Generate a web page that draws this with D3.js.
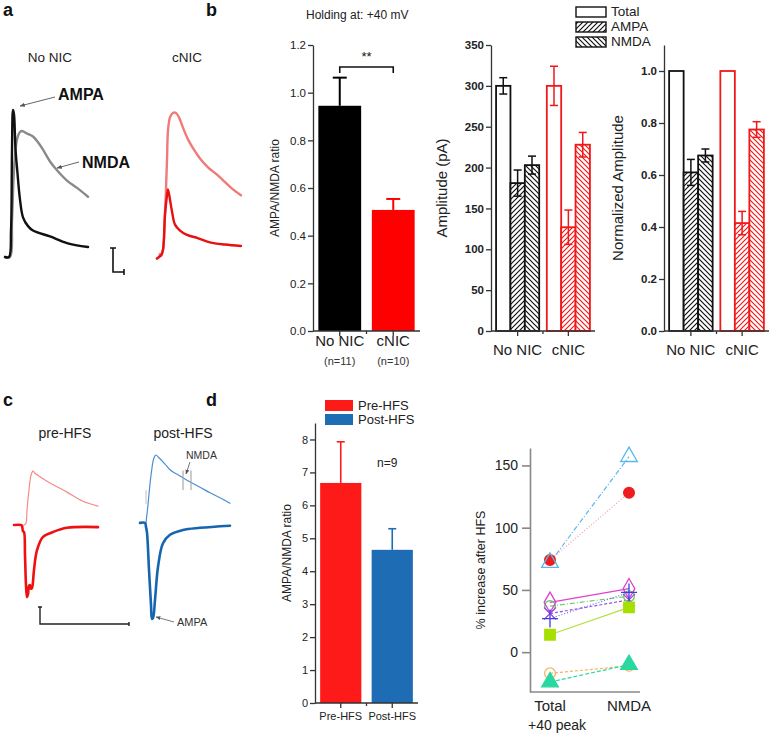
<!DOCTYPE html>
<html><head><meta charset="utf-8">
<script src="https://cdn.jsdelivr.net/npm/d3@7"></script>
<style>body{margin:0;background:#fff}svg{display:block}text{font-family:"Liberation Sans",Arial,sans-serif}</style>
</head><body><svg id="c" width="771" height="734"></svg>
<script>
// ---------------- DATA ----------------
// panel a traces: [time ms, normalized amplitude]
const traceNoNicAMPA = [[0,0],[8,0],[12,0.18],[14,0.73],[16,1.0],[18,0.97],[21,0.73],[24,0.61],[30,0.39],[36,0.27],[46,0.21],[56,0.18],[90,0.14],[124,0.095],[166,0.068]];
const traceNoNicNMDA = [[0,0],[10,0],[14,0.25],[18,0.59],[24,0.8],[30,0.85],[34,0.857],[44,0.84],[56,0.82],[66,0.78],[76,0.73],[90,0.65],[104,0.59],[124,0.52],[144,0.47],[166,0.41]];
const traceCnicNMDA = [[0,-0.01],[4,0],[6,0.02],[8,0.01],[12,0.05],[16,0.29],[20,0.66],[22,0.86],[26,0.95],[32,0.98],[38,0.98],[44,0.95],[52,0.88],[62,0.8],[72,0.74],[86,0.67],[102,0.61],[120,0.56],[136,0.51],[152,0.46],[168,0.42]];
const traceCnicAMPA = [[0,-0.01],[4,0],[8,0.01],[12,0.05],[16,0.29],[20,0.42],[22,0.46],[26,0.39],[30,0.31],[36,0.22],[46,0.18],[60,0.15],[80,0.13],[106,0.10],[136,0.085],[168,0.075]];
// panel b
const ratioCats = ["No NIC","cNIC"];
const ratioNs = ["(n=11)","(n=10)"];
const ratioVals = [0.945, 0.508];
const ratioErr = [0.118, 0.046];
const ratioTicks = [0,0.2,0.4,0.6,0.8,1.0,1.2];
const ampSeries = ["Total","AMPA","NMDA"];
const ampNoNic = [300,181,203];
const ampNoNicErr = [10,16,11];
const ampCnic = [300,127,228];
const ampCnicErr = [24,21,15];
const ampTicks = [0,50,100,150,200,250,300,350];
const normNoNic = [1.0,0.61,0.675];
const normNoNicErr = [0,0.05,0.025];
const normCnic = [1.0,0.415,0.775];
const normCnicErr = [0,0.045,0.03];
const normTicks = [0,0.2,0.4,0.6,0.8,1.0];
// panel c traces: [time ms, normalized amplitude]
const tracePreNMDA = [[20,0],[24,0.03],[26,0.21],[30,0.5],[34,0.71],[38,0.77],[42,0.74],[52,0.69],[72,0.6],[106,0.47],[138,0.34],[168,0.27]];
const tracePreAMPA = [[0,0],[14,0],[16,-0.01],[18,-0.09],[20,-0.1],[22,-0.43],[24,-0.86],[26,-1.03],[28,-0.99],[30,-0.87],[32,-0.86],[34,-0.91],[36,-0.9],[40,-0.64],[46,-0.36],[58,-0.17],[78,-0.1],[106,-0.04],[168,-0.03]];
const tracePostNMDA = [[12,0.03],[16,0.29],[22,0.71],[28,0.96],[32,1.0],[38,0.96],[50,0.87],[60,0.79],[80,0.7],[94,0.64],[120,0.54],[140,0.46],[160,0.39],[180,0.31]];
const tracePostAMPA = [[0,0.03],[10,0.03],[12,-0.03],[14,-0.11],[18,-0.64],[22,-1.14],[24,-1.34],[26,-1.33],[30,-1.07],[36,-0.6],[46,-0.26],[60,-0.14],[86,-0.07],[120,-0.04],[180,-0.01]];
const nmdaWindow = [86, 102];
// panel d
const hfsCats = ["Pre-HFS","Post-HFS"];
const hfsVals = [6.68, 4.65];
const hfsErr = [1.25, 0.64];
const hfsTicks = [0,1,2,3,4,5,6,7,8];
const scatterCats = ["Total","NMDA"];
const cellTotal = [72, 74, 40, 37, 31, 27, 14, -17, -24];
const cellNmda  = [157, 128, 51, 45, 42, 48, 36, -11, -10];
const scatterTicks = [0,50,100,150];

// ---------------- DRAW ----------------
const svg = d3.select("#c");
const defs = svg.append("defs");
defs.append("marker").attr("id","arr").attr("viewBox","0 0 10 10").attr("refX",9).attr("refY",5)
  .attr("markerWidth",6).attr("markerHeight",6).attr("orient","auto")
  .append("path").attr("d","M0,1 L10,5 L0,9 Z").attr("fill","#555");
function hatch(id, color, dir){
  const p = defs.append("pattern").attr("id",id).attr("patternUnits","userSpaceOnUse").attr("width",5).attr("height",5);
  p.append("rect").attr("width",5).attr("height",5).attr("fill","#fff");
  const d = dir === "/" ? "M-1,1 l2,-2 M0,5 l5,-5 M4,6 l2,-2" : "M-1,4 l2,2 M0,0 l5,5 M4,-1 l2,2";
  p.append("path").attr("d",d).attr("stroke",color).attr("stroke-width",1.2);
}
hatch("hAb","#111","/"); hatch("hNb","#111","\\");
hatch("hAr","#f01818","/"); hatch("hNr","#f01818","\\");

function label(x,y,t,o={}){
  return svg.append("text").attr("x",x).attr("y",y).text(t)
    .attr("font-size",o.size||12).attr("font-weight",o.bold?"bold":"normal")
    .attr("text-anchor",o.anchor||"start").attr("fill",o.color||"#111")
    .attr("font-family",o.family||null);
}
function vlabel(x,y,t,size){
  svg.append("text").attr("transform",`translate(${x},${y}) rotate(-90)`).attr("text-anchor","middle")
    .attr("font-size",size).attr("fill","#222").text(t);
}
function trace(data, xs, ys, color, w){
  svg.append("path").datum(data).attr("fill","none").attr("stroke",color).attr("stroke-width",w)
    .attr("stroke-linejoin","round").attr("stroke-linecap","round")
    .attr("d", d3.line().x(d=>xs(d[0])).y(d=>ys(d[1])).curve(d3.curveCatmullRom));
}
function yAxis(scale, x, majors, minors, fmt, size, bold, color){
  const g = svg.append("g").attr("transform",`translate(${x},0)`);
  g.call(d3.axisLeft(scale).tickValues(minors).tickFormat("").tickSize(3).tickSizeOuter(0));
  g.call(d3.axisLeft(scale).tickValues(majors).tickFormat(fmt).tickSize(5).tickSizeOuter(0).tickPadding(2));
  g.selectAll("path,line").attr("stroke",color).attr("stroke-width",1.3);
  g.selectAll("text").attr("font-size",size).attr("font-weight",bold?"bold":"normal").attr("fill","#222")
    .attr("font-family","Liberation Sans, Arial");
  return g;
}
function xAxis(band, y, color){
  const [r0,r1] = band.range();
  svg.append("line").attr("x1",r0).attr("x2",r1).attr("y1",y).attr("y2",y).attr("stroke",color).attr("stroke-width",1.3);
  band.domain().forEach((c,i)=>{
    const cx = band(c)+band.bandwidth()/2;
    svg.append("line").attr("x1",cx).attr("x2",cx).attr("y1",y).attr("y2",y+5).attr("stroke",color).attr("stroke-width",1.3);
    if(i < band.domain().length-1){
      const mid = (band(c)+band.bandwidth() + band(band.domain()[i+1]))/2;
      svg.append("line").attr("x1",mid).attr("x2",mid).attr("y1",y).attr("y2",y+3).attr("stroke",color).attr("stroke-width",1.3);
    }
  });
}
function errBar(x, y1, y2, cap, color, w){
  svg.append("line").attr("x1",x).attr("x2",x).attr("y1",y1).attr("y2",y2).attr("stroke",color).attr("stroke-width",w);
  svg.append("line").attr("x1",x-cap/2).attr("x2",x+cap/2).attr("y1",y1).attr("y2",y1).attr("stroke",color).attr("stroke-width",w);
  if(y2!==y1) svg.append("line").attr("x1",x-cap/2).attr("x2",x+cap/2).attr("y1",y2).attr("y2",y2).attr("stroke",color).attr("stroke-width",w);
}

// ---- panel a ----
label(3,16,"a",{size:18,bold:true});
label(50,62,"No NIC",{size:13.5,anchor:"middle",color:"#222"});
label(187,62,"cNIC",{size:13.5,anchor:"middle",color:"#222"});
const xAL = d3.scaleLinear([0,170],[5,90]);
const xAR = d3.scaleLinear([0,170],[157,242]);
const yA = d3.scaleLinear([0,1],[257,110]);
trace(traceNoNicNMDA, xAL, yA, "#8a8a8a", 2.4);
trace(traceNoNicAMPA, xAL, yA, "#111", 2.4);
trace(traceCnicNMDA, xAR, yA, "#f07a7a", 2.4);
trace(traceCnicAMPA, xAR, yA, "#e81010", 2.4);
label(58,100,"AMPA",{size:16,bold:true});
label(82,168,"NMDA",{size:16,bold:true});
svg.append("line").attr("x1",55).attr("y1",97).attr("x2",20).attr("y2",106).attr("stroke","#555").attr("stroke-width",0.9).attr("marker-end","url(#arr)");
svg.append("line").attr("x1",79).attr("y1",162).attr("x2",57).attr("y2",168).attr("stroke","#555").attr("stroke-width",0.9).attr("marker-end","url(#arr)");
svg.append("path").attr("d","M113,248 V272 H124 M110,248 H116 M124,269 V275").attr("fill","none").attr("stroke","#111").attr("stroke-width",1.6);

// ---- panel b ----
label(206,16,"b",{size:18,bold:true});
label(306,19,"Holding at: +40 mV",{size:12,color:"#222"});
const yB1 = d3.scaleLinear([0,1.2],[331,45]);
const xB1 = d3.scaleBand(ratioCats,[313,420]).paddingInner(0.2).paddingOuter(0.1);
const barColsB1 = ["#000","#ff0000"];
ratioCats.forEach((c,i)=>{
  svg.append("rect").attr("x",xB1(c)).attr("width",xB1.bandwidth()).attr("y",yB1(ratioVals[i])).attr("height",yB1(0)-yB1(ratioVals[i])).attr("fill",barColsB1[i]);
  const cx = xB1(c)+xB1.bandwidth()/2;
  svg.append("line").attr("x1",cx).attr("x2",cx).attr("y1",yB1(ratioVals[i])).attr("y2",yB1(ratioVals[i]+ratioErr[i])).attr("stroke",barColsB1[i]).attr("stroke-width",2);
  svg.append("line").attr("x1",cx-7).attr("x2",cx+7).attr("y1",yB1(ratioVals[i]+ratioErr[i])).attr("y2",yB1(ratioVals[i]+ratioErr[i])).attr("stroke",barColsB1[i]).attr("stroke-width",2);
  label(cx,346,c,{size:15,anchor:"middle",color:"#222"});
  label(cx,365,ratioNs[i],{size:11,anchor:"middle",color:"#333"});
});
yAxis(yB1,313,ratioTicks,d3.range(0.1,1.2,0.2),d3.format(".1f"),11.5,false,"#333");
xAxis(xB1,331,"#333");
{
  const c1 = xB1(ratioCats[0])+xB1.bandwidth()/2, c2 = xB1(ratioCats[1])+xB1.bandwidth()/2;
  svg.append("path").attr("d",`M${c1},73 V67 H${c2} V73`).attr("fill","none").attr("stroke","#111").attr("stroke-width",1.6);
  label((c1+c2)/2,61,"**",{size:13,anchor:"middle"});
}
vlabel(279,188,"AMPA/NMDA ratio",12);

function grouped(xRange, yScale, noVals, noErr, cVals, cErr, majors, minors, fmt, ylab, ylabX){
  const xb = d3.scaleBand(ratioCats, xRange).paddingInner(0.15).paddingOuter(0.1);
  const xs = d3.scaleBand(ampSeries,[0,xb.bandwidth()]);
  const groups = [[noVals,noErr,"#111",["#fff","url(#hAb)","url(#hNb)"]],[cVals,cErr,"#f01818",["#fff","url(#hAr)","url(#hNr)"]]];
  ratioCats.forEach((c,gi)=>{
    const [vals,errs,col,fills] = groups[gi];
    ampSeries.forEach((s,si)=>{
      const x = xb(c)+xs(s);
      svg.append("rect").attr("x",x).attr("width",xs.bandwidth()).attr("y",yScale(vals[si])).attr("height",yScale(0)-yScale(vals[si]))
        .attr("fill",fills[si]).attr("stroke",col).attr("stroke-width",1.8);
      if(errs[si]>0) errBar(x+xs.bandwidth()/2, yScale(vals[si]+errs[si]), yScale(vals[si]-errs[si]), 8, col, 1.5);
    });
    label(xb(c)+xb.bandwidth()/2,355,c,{size:15,anchor:"middle",color:"#222"});
  });
  yAxis(yScale,xRange[0],majors,minors,fmt,11.5,true,"#333");
  xAxis(xb,331,"#333");
  vlabel(ylabX,188,ylab,15);
}
grouped([491,595], d3.scaleLinear([0,350],[331,45]), ampNoNic, ampNoNicErr, ampCnic, ampCnicErr, ampTicks, d3.range(25,350,50), d3.format("d"), "Amplitude (pA)", 447);
grouped([664,769], d3.scaleLinear([0,1.1],[331,45]), normNoNic, normNoNicErr, normCnic, normCnicErr, normTicks, d3.range(0.1,1.1,0.2), d3.format(".1f"), "Normalized Amplitude", 623);
const legFills = ["#fff","url(#hAb)","url(#hNb)"];
ampSeries.forEach((s,i)=>{
  svg.append("rect").attr("x",576).attr("y",7+i*15).attr("width",30).attr("height",10).attr("fill",legFills[i]).attr("stroke","#111").attr("stroke-width",1.4);
  label(611,16+i*15,s,{size:13.5,color:"#222"});
});

// ---- panel c ----
label(3,406,"c",{size:18,bold:true});
label(65,438,"pre-HFS",{size:14,anchor:"middle",color:"#222"});
label(183,438,"post-HFS",{size:14,anchor:"middle",color:"#222"});
const xCpre = d3.scaleLinear([0,180],[14,104]);
const xCpost = d3.scaleLinear([0,180],[140,230]);
const yC = d3.scaleLinear([0,1],[525,455]);
trace(tracePreNMDA, xCpre, yC, "#f58a8a", 1.2);
trace(tracePreAMPA, xCpre, yC, "#ee1111", 2.6);
trace(tracePostNMDA, xCpost, yC, "#4a8fd0", 1.2);
trace(tracePostAMPA, xCpost, yC, "#1466b0", 2.6);
nmdaWindow.forEach(t=>{
  svg.append("line").attr("x1",xCpost(t)).attr("x2",xCpost(t)).attr("y1",yC(0.78)).attr("y2",yC(0.5)).attr("stroke","#aaa").attr("stroke-width",1.2);
});
svg.append("line").attr("x1",xCpost(12)).attr("x2",xCpost(12)).attr("y1",yC(0.5)).attr("y2",yC(0.3)).attr("stroke","#ccc").attr("stroke-width",1.2);
label(186,459,"NMDA",{size:10.5,color:"#333"});
svg.append("line").attr("x1",190).attr("y1",462).attr("x2",186).attr("y2",474).attr("stroke","#555").attr("stroke-width",0.8).attr("marker-end","url(#arr)");
label(177,626,"AMPA",{size:11,color:"#333"});
svg.append("line").attr("x1",174).attr("y1",622).attr("x2",156).attr("y2",617).attr("stroke","#555").attr("stroke-width",0.8).attr("marker-end","url(#arr)");
svg.append("path").attr("d","M40,607 V624 H129 M38,607 H42 M129,622 V626").attr("fill","none").attr("stroke","#222").attr("stroke-width",1.4);

// ---- panel d ----
label(206,406,"d",{size:18,bold:true});
const hfsCols = ["#ff1a1a","#1e6cb3"];
hfsCats.forEach((c,i)=>{
  svg.append("rect").attr("x",325).attr("y",400+i*14).attr("width",28).attr("height",11).attr("fill",hfsCols[i]);
  label(358,410+i*14,c,{size:13,color:"#222"});
});
const yD = d3.scaleLinear([0,8.5],[703,423]);
const xD = d3.scaleBand(hfsCats,[315,418]).paddingInner(0.2).paddingOuter(0.1);
hfsCats.forEach((c,i)=>{
  const cx = xD(c)+xD.bandwidth()/2;
  svg.append("rect").attr("x",xD(c)).attr("width",xD.bandwidth()).attr("y",yD(hfsVals[i])).attr("height",yD(0)-yD(hfsVals[i])).attr("fill",hfsCols[i]);
  svg.append("line").attr("x1",cx).attr("x2",cx).attr("y1",yD(hfsVals[i])).attr("y2",yD(hfsVals[i]+hfsErr[i])).attr("stroke",hfsCols[i]).attr("stroke-width",1.6);
  svg.append("line").attr("x1",cx-4).attr("x2",cx+4).attr("y1",yD(hfsVals[i]+hfsErr[i])).attr("y2",yD(hfsVals[i]+hfsErr[i])).attr("stroke",hfsCols[i]).attr("stroke-width",1.6);
  label(cx,720,c,{size:11,anchor:"middle",color:"#222"});
});
yAxis(yD,315,hfsTicks,d3.range(0.5,8.5,1),d3.format("d"),11,false,"#333");
xAxis(xD,703,"#333");
label(377,467,"n=9",{size:12,color:"#222"});
vlabel(291,553,"AMPA/NMDA ratio",12);

// ---- scatter ----
const yS = d3.scaleLinear([-32,164],[692,448]);
const xS = d3.scalePoint(scatterCats,[550,629]);
{
  const g = svg.append("g").attr("transform","translate(530,0)");
  g.call(d3.axisLeft(yS).tickValues(scatterTicks).tickSize(8).tickSizeOuter(0).tickPadding(4));
  g.selectAll("path,line").attr("stroke","#888").attr("stroke-width",1.6);
  g.selectAll("text").attr("font-size",14).attr("fill","#222").attr("font-family","Liberation Sans, Arial");
  svg.append("line").attr("x1",530).attr("x2",640).attr("y1",692).attr("y2",692).attr("stroke","#888").attr("stroke-width",1.6);
}
vlabel(485,570,"% increase after HFS",12.5);
label(550,711,"Total",{size:15,anchor:"middle",color:"#222"});
label(557,730,"+40 peak",{size:14,anchor:"middle",color:"#222"});
label(629,711,"NMDA",{size:15,anchor:"middle",color:"#222"});
const cellStyle = [
  {c:"#5ab8ea", dash:"5,2,1,2", m:"triUp", fill:false, lc:"#5ab8ea"},
  {c:"#ee1c1c", dash:"1,2", m:"circle", fill:true, lc:"#f5a0a6"},
  {c:"#e040d0", dash:null, m:"diamond", fill:false, lc:"#e040d0"},
  {c:"#66cc66", dash:"5,2,1,2", m:"circle", fill:false, lc:"#66cc66"},
  {c:"#9b4de0", dash:"3,2", m:"cross", fill:false, lc:"#9b4de0"},
  {c:"#3d3de6", dash:"1,2", m:"plus", fill:false, lc:"#6a6aee"},
  {c:"#a6e000", dash:null, m:"square", fill:true, lc:"#b4e040"},
  {c:"#f7b462", dash:"3,2", m:"circle", fill:false, lc:"#f7b462"},
  {c:"#28d8a0", dash:"4,2", m:"triUp", fill:true, lc:"#28d8a0"}
];
const symMap = {triUp:d3.symbolTriangle, circle:d3.symbolCircle, diamond:d3.symbolDiamond, square:d3.symbolSquare};
cellTotal.forEach((v,i)=>{
  const st = cellStyle[i];
  svg.append("line").attr("x1",xS("Total")).attr("x2",xS("NMDA")).attr("y1",yS(v)).attr("y2",yS(cellNmda[i]))
    .attr("stroke",st.lc).attr("stroke-width",1.2).attr("stroke-dasharray",st.dash);
});
const drawOrder = [1,0,3,2,4,5,6,7,8];
drawOrder.forEach(i=>{
  const st = cellStyle[i];
  [[xS("Total"),yS(cellTotal[i])],[xS("NMDA"),yS(cellNmda[i])]].forEach(([x,y])=>{
    if(st.m==="plus"){
      svg.append("path").attr("d",`M${x-8},${y} H${x+8} M${x},${y-9} V${y+9}`).attr("stroke",st.c).attr("stroke-width",1.3);
      return;
    }
    if(st.m==="cross"){
      svg.append("path").attr("d",`M${x-6},${y-6} L${x+6},${y+6} M${x-6},${y+6} L${x+6},${y-6}`).attr("stroke",st.c).attr("stroke-width",1.3);
      return;
    }
    let size = 90;
    if(st.m==="triUp") size = 120; if(st.m==="square") size = 110; if(st.m==="diamond") size = 120;
    svg.append("path").attr("transform",`translate(${x},${y})`)
      .attr("d",d3.symbol().type(symMap[st.m]).size(size)())
      .attr("fill",st.fill?st.c:"none").attr("stroke",st.c).attr("stroke-width",1.3);
  });
});
</script></body></html>
